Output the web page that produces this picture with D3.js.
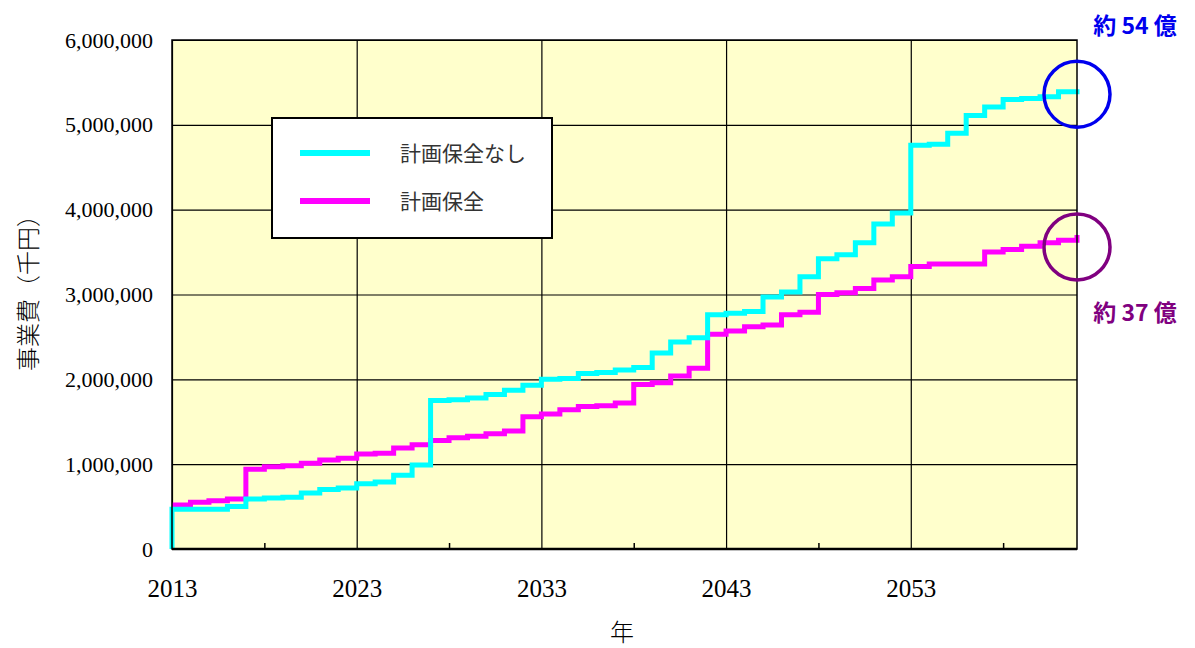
<!DOCTYPE html>
<html>
<head>
<meta charset="utf-8">
<script src="https://cdn.jsdelivr.net/npm/d3@7"></script>
<style>
  body { margin: 0; background: #fff; }
  svg { display: block; }
</style>
</head>
<body>
<svg id="chart" width="1195" height="648"></svg>
<script>
// years 2013..2062, cumulative cost (thousand yen)
const years = d3.range(2013, 2063);

const noPlan = [
  470000, 470000, 470000, 500000, 590000, 600000, 610000, 660000, 700000, 720000,
  770000, 790000, 870000, 990000, 1750000, 1760000, 1780000, 1820000, 1870000, 1930000,
  2000000, 2010000, 2070000, 2080000, 2110000, 2140000, 2310000, 2440000, 2490000, 2760000,
  2780000, 2800000, 2970000, 3030000, 3210000, 3420000, 3470000, 3610000, 3830000, 3960000,
  4760000, 4770000, 4900000, 5110000, 5210000, 5300000, 5310000, 5330000, 5390000, 5420000
];

const planned = [
  520000, 550000, 570000, 590000, 940000, 970000, 980000, 1010000, 1050000, 1070000,
  1120000, 1130000, 1190000, 1230000, 1280000, 1310000, 1330000, 1360000, 1390000, 1560000,
  1590000, 1640000, 1680000, 1690000, 1720000, 1940000, 1960000, 2040000, 2130000, 2530000,
  2570000, 2620000, 2640000, 2760000, 2790000, 3000000, 3020000, 3070000, 3170000, 3210000,
  3330000, 3360000, 3360000, 3360000, 3500000, 3530000, 3570000, 3610000, 3640000, 3700000
];

const yTicks = [0, 1000000, 2000000, 3000000, 4000000, 5000000, 6000000];
const xMajor = [2013, 2023, 2033, 2043, 2053];
const xMinor = [2018, 2028, 2038, 2048, 2058];

const seriesNames = ["計画保全なし", "計画保全"];
const seriesColors = ["#00ffff", "#ff00ff"];

// callouts: label, circle centre value at the last year
const noteLabels = ["約 54 億", "約 37 億"];
const noteCenters = [5360000, 3560000];
const noteColors = ["#0000ee", "#800080"];

const svg = d3.select("#chart");
const pL = 172, pR = 1077, pT = 40, pB = 549;

const x = d3.scaleLinear().domain([2013, 2062]).range([pL, pR]);
const y = d3.scaleLinear().domain([0, 6000000]).range([pB, pT]);

// plot background
svg.append("rect")
  .attr("x", pL).attr("y", pT)
  .attr("width", pR - pL).attr("height", pB - pT)
  .attr("fill", "#ffffcc");

// horizontal grid
svg.append("g")
  .attr("transform", `translate(${pL},0)`)
  .call(d3.axisLeft(y).tickValues(yTicks).tickSize(-(pR - pL)).tickFormat(""))
  .call(g => g.select(".domain").remove())
  .call(g => g.selectAll("line").attr("stroke", "#000").attr("stroke-width", 1.2));

// vertical grid at major years
svg.append("g")
  .attr("transform", `translate(0,${pB})`)
  .call(d3.axisBottom(x).tickValues(xMajor).tickSize(-(pB - pT)).tickFormat(""))
  .call(g => g.select(".domain").remove())
  .call(g => g.selectAll("line").attr("stroke", "#000").attr("stroke-width", 1.2));

// minor ticks
svg.append("g")
  .attr("transform", `translate(0,${pB})`)
  .call(d3.axisBottom(x).tickValues(xMinor).tickSize(-6).tickFormat(""))
  .call(g => g.select(".domain").remove())
  .call(g => g.selectAll("line").attr("stroke", "#000").attr("stroke-width", 1.5));

// y labels
svg.append("g")
  .attr("transform", `translate(${pL},0)`)
  .call(d3.axisLeft(y).tickValues(yTicks).tickSize(0).tickPadding(19).tickFormat(d3.format(",")))
  .call(g => g.select(".domain").remove())
  .call(g => g.selectAll("text")
    .attr("font-family", "'Liberation Serif', 'Times New Roman', serif")
    .attr("font-size", 22).attr("fill", "#000"));

// x labels
svg.append("g")
  .attr("transform", `translate(0,${pB})`)
  .call(d3.axisBottom(x).tickValues(xMajor).tickSize(0).tickPadding(30).tickFormat(d3.format("d")))
  .call(g => g.select(".domain").remove())
  .call(g => g.selectAll("text")
    .attr("font-family", "'Liberation Serif', 'Times New Roman', serif")
    .attr("font-size", 25).attr("fill", "#000"));

// lines
const line = d3.line()
  .x(d => x(d[0]))
  .y(d => y(d[1]))
  .curve(d3.curveStepAfter);

const dataNoPlan = [[2013, 0]].concat(years.map((yr, i) => [yr, noPlan[i]]));
const dataPlanned = years.map((yr, i) => [yr, planned[i]]);

svg.append("path")
  .datum(dataPlanned)
  .attr("d", line)
  .attr("fill", "none")
  .attr("stroke", seriesColors[1])
  .attr("stroke-width", 5);

svg.append("path")
  .datum(dataNoPlan)
  .attr("d", line)
  .attr("fill", "none")
  .attr("stroke", seriesColors[0])
  .attr("stroke-width", 5);

// plot border
svg.append("rect")
  .attr("x", pL).attr("y", pT)
  .attr("width", pR - pL).attr("height", pB - pT)
  .attr("fill", "none").attr("stroke", "#000").attr("stroke-width", 1.5);
svg.append("line")
  .attr("x1", pL).attr("x2", pR).attr("y1", pB).attr("y2", pB)
  .attr("stroke", "#000").attr("stroke-width", 2.5);

// legend
const lg = svg.append("g");
lg.append("rect")
  .attr("x", 272).attr("y", 118).attr("width", 280).attr("height", 120)
  .attr("fill", "#fff").attr("stroke", "#000").attr("stroke-width", 2);
seriesNames.forEach((name, i) => {
  const yy = 153 + i * 48;
  lg.append("line")
    .attr("x1", 300).attr("x2", 370).attr("y1", yy).attr("y2", yy)
    .attr("stroke", seriesColors[i]).attr("stroke-width", 6);
  lg.append("text")
    .attr("x", 400).attr("y", yy + 8)
    .attr("font-family", "'Noto Sans CJK JP', sans-serif")
    .attr("font-size", 21).attr("fill", "#333")
    .text(name);
});

// axis titles
svg.append("text")
  .attr("x", 622).attr("y", 641)
  .attr("text-anchor", "middle")
  .attr("font-family", "'Noto Sans CJK JP', serif")
  .attr("font-weight", 300)
  .attr("font-size", 24).attr("fill", "#000")
  .text("年");

svg.append("text")
  .attr("transform", "translate(37,287) rotate(-90)")
  .attr("text-anchor", "middle")
  .attr("font-family", "'Noto Sans CJK JP', serif")
  .attr("font-weight", 300)
  .attr("font-size", 24).attr("fill", "#000")
  .text("事業費（千円）");

// annotations
const noteTextY = [34, 321];
noteLabels.forEach((label, i) => {
  svg.append("circle")
    .attr("cx", x(2062)).attr("cy", y(noteCenters[i]))
    .attr("r", 33)
    .attr("fill", "none").attr("stroke", noteColors[i]).attr("stroke-width", 3.5);
  svg.append("text")
    .attr("x", 1135).attr("y", noteTextY[i])
    .attr("text-anchor", "middle")
    .attr("font-family", "'Noto Sans CJK JP', sans-serif")
    .attr("font-weight", "bold")
    .attr("font-size", 23).attr("fill", noteColors[i])
    .text(label);
});
</script>
</body>
</html>
